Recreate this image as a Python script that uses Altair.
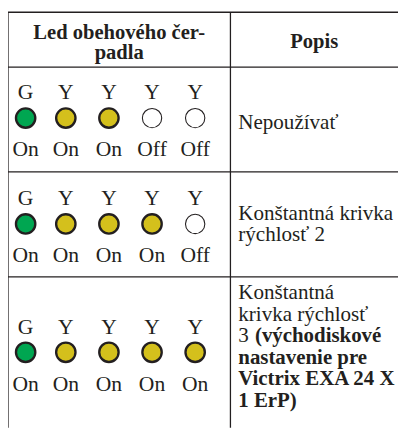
import altair as alt
import pandas as pd

# ---------------- data ----------------
led_letters = ["G", "Y", "Y", "Y", "Y"]
row_states = [
    ["On", "On", "On", "Off", "Off"],
    ["On", "On", "On", "On", "Off"],
    ["On", "On", "On", "On", "On"],
]
header_left = ["Led obehového čer-", "padla"]
header_right = ["Popis"]
# description lines per row: each line is a list of (text, bold) segments
descriptions = [
    [[("Nepoužívať", False)]],
    [[("Konštantná krivka", False)], [("rýchlosť 2", False)]],
    [
        [("Konštantná", False)],
        [("krivka rýchlosť", False)],
        [("3 ", False), ("(východiskové", True)],
        [("nastavenie pre", True)],
        [("Victrix EXA 24 X", True)],
        [("1 ErP)", True)],
    ],
]

# ---------------- layout (page pixel units) ----------------
X0, X_DIV, X1 = 8, 235, 406
Y0, Y1 = 8, 432
row_lines = [64, 171, 278]
led_x = [26, 67, 111, 155, 199]
circle_y = [116, 224, 355]
letter_dy, state_dy = -19, 39
desc_x = 243
desc_first_baseline = [127, 220, 301]
desc_line_h = 21.9
bold_seg_x = 260
header_baselines = [35, 56]
popis_baseline = 44

GREEN, YELLOW, INK = "#00a651", "#d4c01c", "#231f20"
FONT = "Liberation Serif"

W, H = X1 - X0, Y1 - Y0
xs = alt.Scale(domain=[X0, X1], range=[0, W], nice=False, zero=False)
ys = alt.Scale(domain=[Y0, Y1], range=[0, H], nice=False, zero=False)

def X(f="x"):
    return alt.X(f"{f}:Q", scale=xs, axis=None)

def Y(f="y"):
    return alt.Y(f"{f}:Q", scale=ys, axis=None)

# table lines
lines = []
for yy in [Y0] + row_lines:
    lines.append(dict(x=X0, x2=X1, y=yy, y2=yy))
for xx in [X0, X_DIV]:
    lines.append(dict(x=xx, x2=xx, y=Y0, y2=Y1))
lines_df = pd.DataFrame(lines)
rules = alt.Chart(lines_df).mark_rule(color=INK, strokeWidth=1.3).encode(
    x=X(), x2="x2:Q", y=Y(), y2="y2:Q"
)

# LEDs
leds = []
for r, states in enumerate(row_states):
    for i, (letter, st) in enumerate(zip(led_letters, states)):
        key = f"{letter}-{st}" if st == "On" else "Off"
        leds.append(dict(x=led_x[i], y=circle_y[r], ly=circle_y[r] + letter_dy,
                         sy=circle_y[r] + state_dy, letter=letter, state=st, key=key))
leds_df = pd.DataFrame(leds)

circles = alt.Chart(leds_df).mark_point(shape="circle", filled=True, size=390, stroke=INK, opacity=1).encode(
    x=X(), y=Y(),
    fill=alt.Fill("key:N", scale=alt.Scale(domain=["G-On", "Y-On", "Off"], range=[GREEN, YELLOW, "#ffffff"]), legend=None),
    strokeWidth=alt.StrokeWidth("state:N", scale=alt.Scale(domain=["On", "Off"], range=[2.4, 1.1]), legend=None),
)
letters = alt.Chart(leds_df).mark_text(font=FONT, fontSize=22, color=INK, align="center", baseline="alphabetic").encode(
    x=X(), y=Y("ly"), text="letter:N"
)
states_t = alt.Chart(leds_df).mark_text(font=FONT, fontSize=22, color=INK, align="center", baseline="alphabetic").encode(
    x=X(), y=Y("sy"), text="state:N"
)

# headers
hdr = [dict(x=(X0 + X_DIV) / 2, y=header_baselines[i], t=t) for i, t in enumerate(header_left)]
hdr.append(dict(x=(X_DIV + X1) / 2, y=popis_baseline, t=header_right[0]))
hdr_df = pd.DataFrame(hdr)
headers = alt.Chart(hdr_df).mark_text(font=FONT, fontSize=21, fontWeight="bold", color=INK, align="center", baseline="alphabetic").encode(
    x=X(), y=Y(), text="t:N"
)

# descriptions
desc = []
for r, rows in enumerate(descriptions):
    for li, segs in enumerate(rows):
        yy = desc_first_baseline[r] + li * desc_line_h
        for si, (t, b) in enumerate(segs):
            xx = desc_x if si == 0 else bold_seg_x
            desc.append(dict(x=xx, y=yy, t=t, bold=b))
desc_df = pd.DataFrame(desc)
desc_norm = alt.Chart(desc_df[~desc_df.bold]).mark_text(font=FONT, fontSize=21.5, color=INK, align="left", baseline="alphabetic").encode(
    x=X(), y=Y(), text="t:N"
)
desc_bold = alt.Chart(desc_df[desc_df.bold]).mark_text(font=FONT, fontSize=21.3, fontWeight="bold", color=INK, align="left", baseline="alphabetic").encode(
    x=X(), y=Y(), text="t:N"
)

chart = alt.layer(rules, circles, letters, states_t, headers, desc_norm, desc_bold).properties(
    width=W, height=H, padding=0, autosize=alt.AutoSizeParams(type="none")
).configure_view(stroke=None)

chart.save("out.html", embed_options={"renderer": "svg", "actions": False})
